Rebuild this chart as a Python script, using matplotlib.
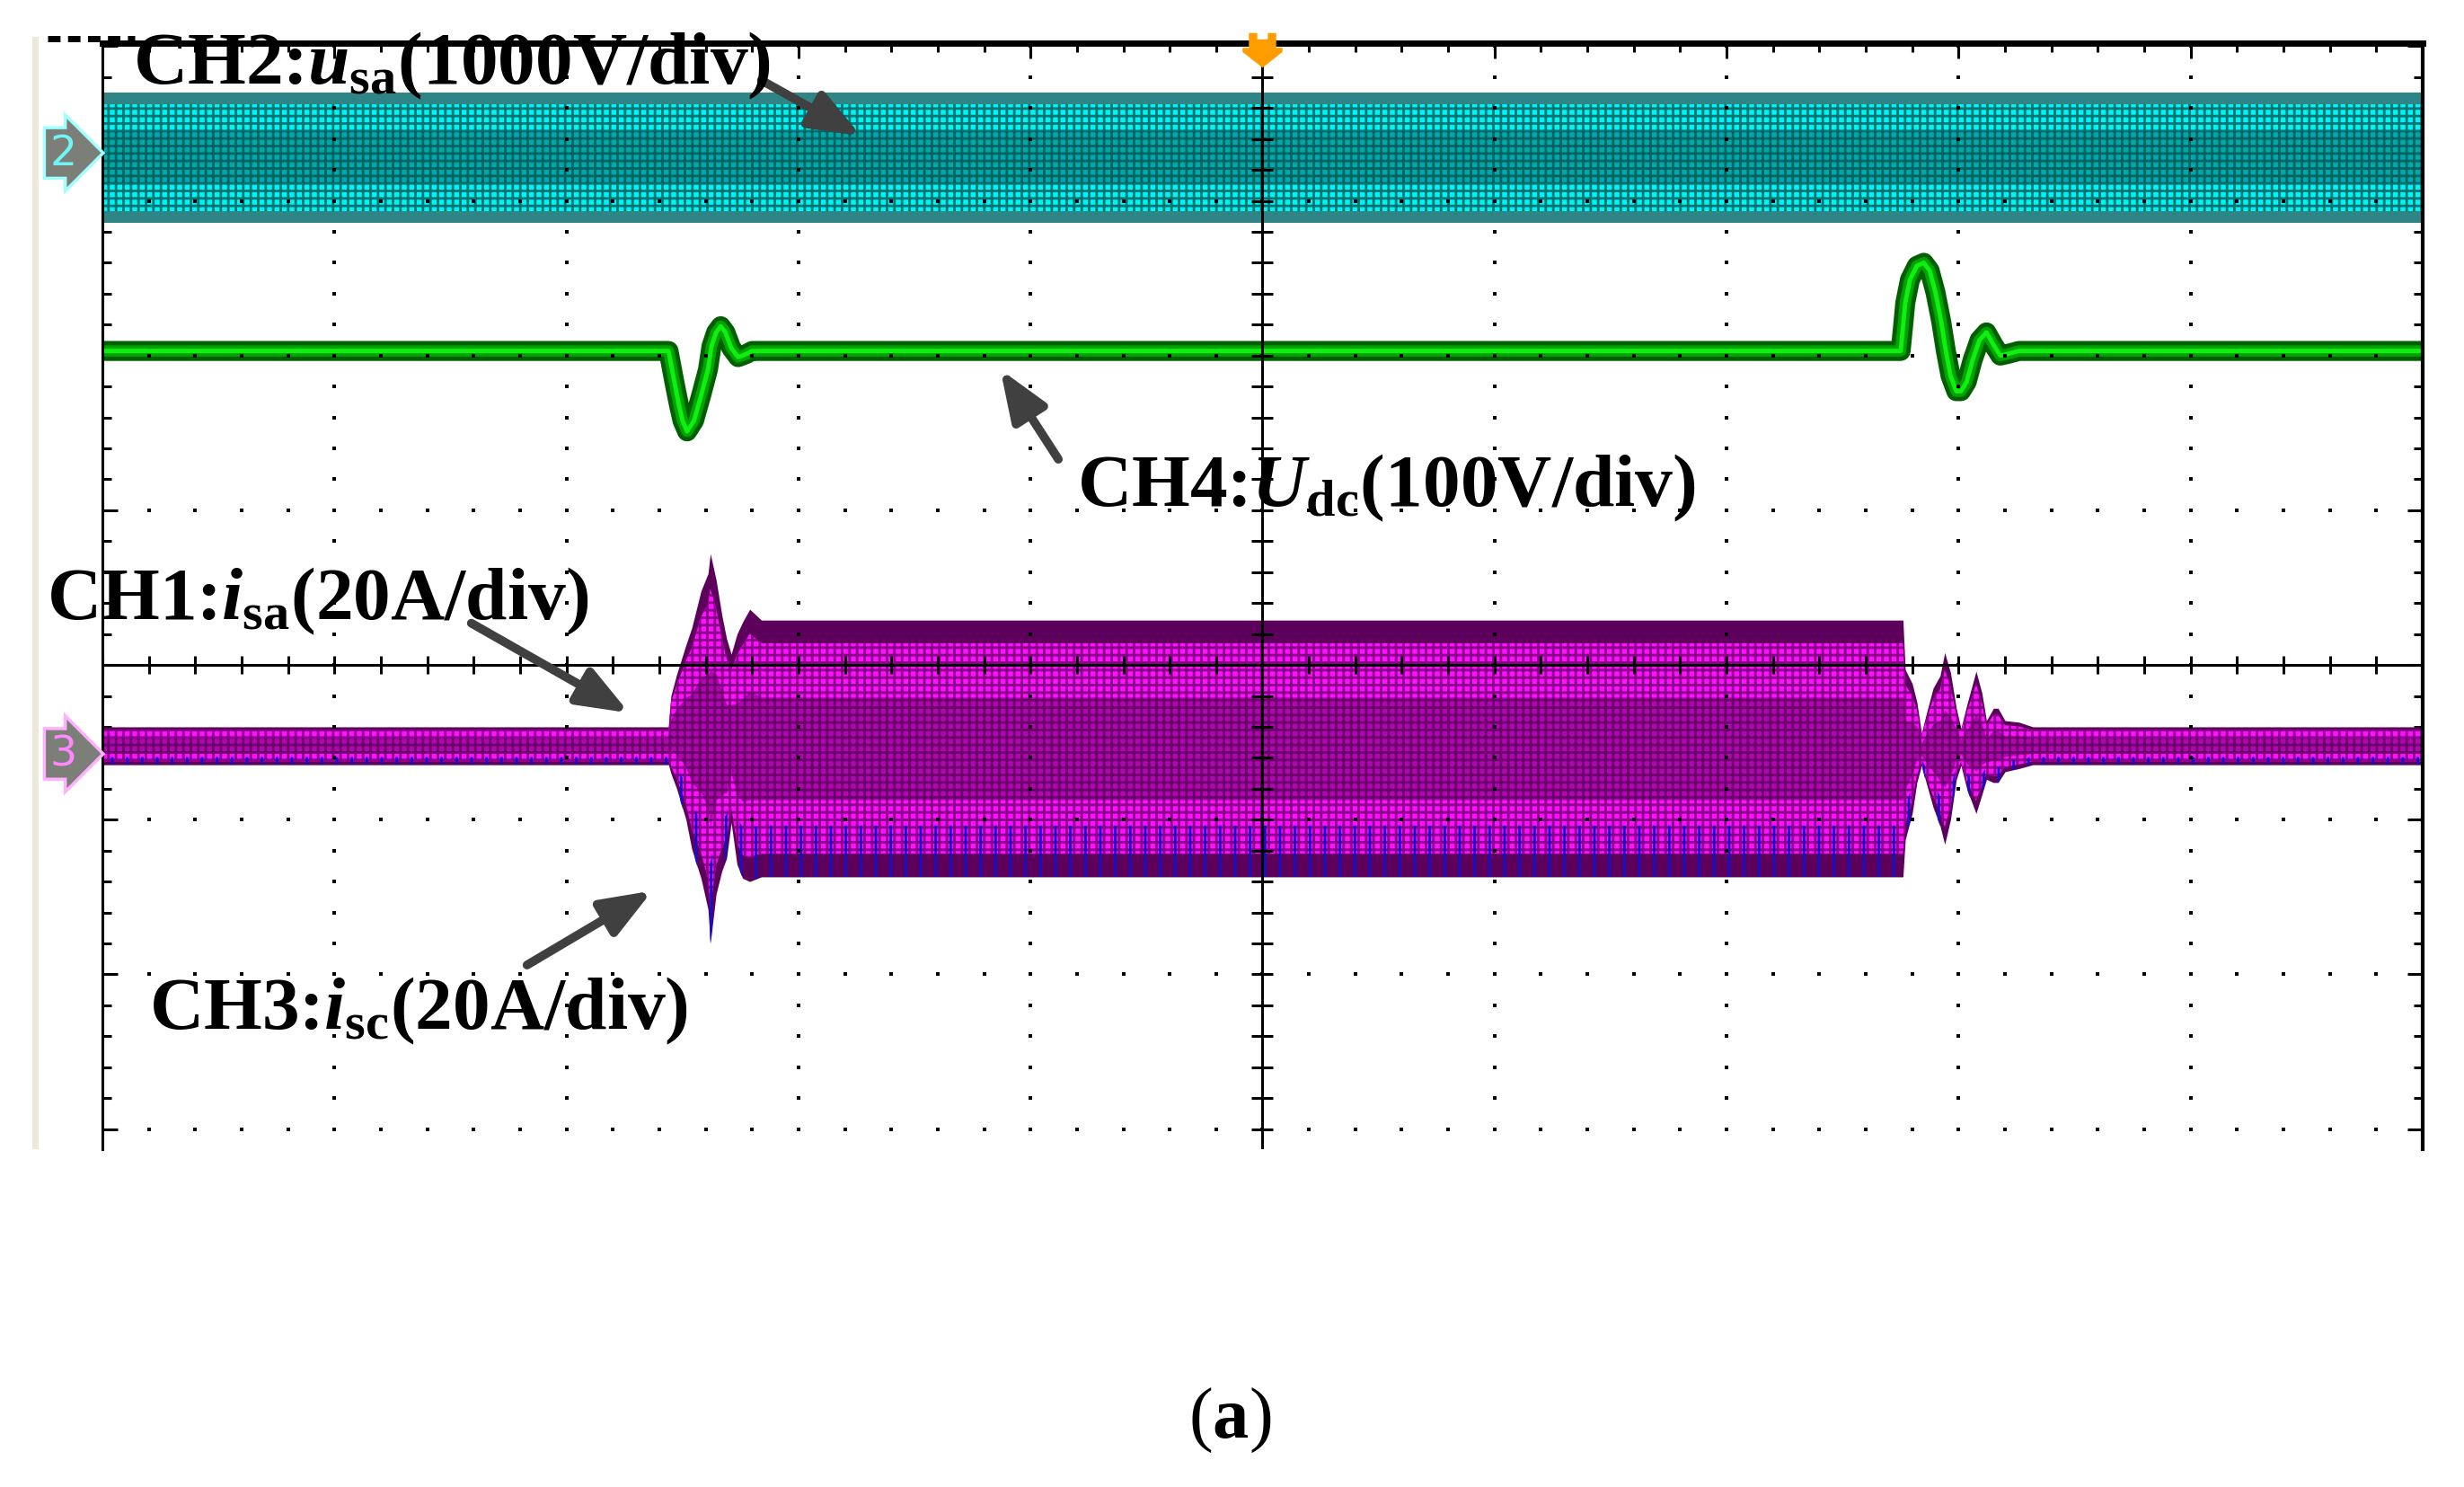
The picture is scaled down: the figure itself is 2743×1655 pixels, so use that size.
import numpy as np
import matplotlib.pyplot as plt
from matplotlib.path import Path
from matplotlib.patches import Rectangle
from matplotlib.lines import Line2D
from matplotlib.ticker import MultipleLocator

plt.rcParams['font.family'] = ['Liberation Serif', 'DejaVu Serif']
plt.rcParams['mathtext.fontset'] = 'custom'
plt.rcParams['mathtext.rm'] = 'Liberation Serif'
plt.rcParams['mathtext.it'] = 'Liberation Serif:italic:bold'
plt.rcParams['mathtext.bf'] = 'Liberation Serif:bold'
plt.rcParams['hatch.linewidth'] = 2.0

# time in divisions (10 div across the screen), level in divisions (0 = centre line)
# CH2 u_sa: dense sine, kept as its envelope
t_usa = [0.0, 10.0]
usa_top = [3.70, 3.70]
usa_bot = [2.86, 2.86]

# CH4 U_dc
t_udc = [0.00, 2.44, 2.465, 2.485, 2.50, 2.52, 2.55, 2.58, 2.61, 2.625, 2.645, 2.665,
         2.685, 2.71, 2.74, 2.775, 2.80, 7.75, 7.76, 7.77, 7.79, 7.82, 7.85, 7.875,
         7.90, 7.925, 7.945, 7.965, 7.99, 8.01, 8.035, 8.06, 8.09, 8.12, 8.15, 8.18,
         8.21, 8.26, 10.00]
udc = [2.03, 2.03, 1.83, 1.68, 1.58, 1.51, 1.58, 1.74, 1.91, 2.06, 2.15, 2.19,
       2.15, 2.05, 1.99, 2.01, 2.03, 2.03, 2.18, 2.34, 2.49, 2.58, 2.60, 2.55,
       2.41, 2.22, 2.03, 1.87, 1.77, 1.77, 1.83, 1.97, 2.10, 2.15, 2.07, 2.00,
       2.01, 2.03, 2.03]

# CH1 / CH3 phase currents, envelope of the traces
t_i = [0.00, 2.44, 2.45, 2.475, 2.515, 2.54, 2.58, 2.61, 2.62, 2.645, 2.67, 2.69,
       2.71, 2.735, 2.76, 2.79, 2.84, 7.76, 7.77, 7.80, 7.82, 7.84, 7.86, 7.89,
       7.92, 7.94, 7.965, 7.99, 8.01, 8.035, 8.055, 8.075, 8.10, 8.12, 8.15, 8.17,
       8.20, 8.26, 8.32, 10.00]
i_top = [-0.40, -0.40, -0.20, -0.06, 0.13, 0.24, 0.48, 0.59, 0.72, 0.55, 0.32, 0.17,
         0.07, 0.20, 0.28, 0.36, 0.29, 0.29, -0.03, -0.12, -0.24, -0.44, -0.32, -0.15,
         -0.07, 0.08, -0.05, -0.28, -0.41, -0.26, -0.15, -0.04, -0.18, -0.36, -0.28, -0.28,
         -0.36, -0.37, -0.40, -0.40]
i_bot = [-0.645, -0.645, -0.70, -0.80, -1.00, -1.19, -1.38, -1.58, -1.80, -1.48, -1.33, -1.25,
         -1.02, -1.29, -1.38, -1.40, -1.37, -1.37, -1.13, -0.96, -0.76, -0.65, -0.76, -0.92,
         -1.04, -1.16, -1.00, -0.74, -0.65, -0.80, -0.88, -0.96, -0.84, -0.74, -0.76, -0.76,
         -0.69, -0.67, -0.645, -0.645]

labels = [
    (r'CH2:$\mathit{u}_{\mathbf{sa}}$(1000V/div)', 0.13, 3.76),
    (r'CH4:$\mathit{U}_{\mathbf{dc}}$(100V/div)', 4.20, 1.03),
    (r'CH1:$\mathit{i}_{\mathbf{sa}}$(20A/div)', -0.24, 0.30),
    (r'CH3:$\mathit{i}_{\mathbf{sc}}$(20A/div)', 0.20, -2.35),
]
# arrows: (tail, tip) in divisions
arrows = [
    ((2.84, 3.78), (3.27, 3.42)),
    ((4.12, 1.33), (3.87, 1.91)),
    ((1.59, 0.27), (2.27, -0.31)),
    ((1.83, -1.94), (2.37, -1.46)),
]


def band(ax, t, top, bot, outer, fill, hatch_col, core, low_col, zo):
    t = np.asarray(t)
    top = np.asarray(top)
    bot = np.asarray(bot)
    mid = (top + bot) / 2
    half = (top - bot) / 2
    ax.fill_between(t, bot, top, color=outer, lw=0, zorder=zo)
    ax.fill_between(t, mid - half * 0.82, mid + half * 0.82, facecolor=fill,
                    edgecolor=hatch_col, hatch='++', lw=0, zorder=zo + 0.1)
    ax.fill_between(t, mid - half * 0.4, mid + half * 0.4, color=core,
                    alpha=0.45, lw=0, zorder=zo + 0.2)
    if low_col is not None:
        ax.fill_between(t, bot, mid - half * 0.6, facecolor='none',
                        edgecolor=low_col, hatch='|', lw=0, zorder=zo + 0.3)


fig = plt.figure(figsize=(27.43, 16.56), dpi=100)
ax = fig.add_axes([0.04156, 0.2271, 0.94167, 0.7433])
ax.set_xlim(0, 10)
ax.set_ylim(-3.13, 4.02)

band(ax, t_usa, usa_top, usa_bot, '#2f8585', '#00f4f4', '#007474', '#004f4f', None, 3)

ax.plot(t_udc, udc, color='#006000', lw=16, solid_joinstyle='round',
        solid_capstyle='butt', zorder=4)
ax.plot(t_udc, udc, color='#00a400', lw=9, solid_joinstyle='round',
        solid_capstyle='butt', zorder=4.1)
ax.plot(t_udc, udc, color='#10f010', lw=3.5, solid_joinstyle='round',
        solid_capstyle='butt', zorder=4.2)

band(ax, t_i, i_top, i_bot, '#5c005c', '#ff10ff', '#8a008a', '#4a004a', '#1010d0', 3.5)

# screen graticule: dotted lines, solid centre cross
xmaj = [x for x in range(1, 10) if x != 5]
ymaj = [y for y in range(-3, 4) if y != 0]
yminor = np.arange(-3.0, 4.01, 0.2)
xminor = np.arange(0.0, 10.01, 0.2)
gx, gy = np.meshgrid(xmaj, yminor)
ax.plot(gx.ravel(), gy.ravel(), ls='none', marker='s', ms=2.4, color='black', mew=0, zorder=6)
gx, gy = np.meshgrid(xminor, ymaj)
ax.plot(gx.ravel(), gy.ravel(), ls='none', marker='s', ms=2.4, color='black', mew=0, zorder=6)

ax.axvline(5, color='black', lw=2.2, zorder=6)
ax.axhline(0, color='black', lw=2.2, zorder=6)
ax.plot(xminor, np.zeros_like(xminor), ls='none', marker='|', ms=15, mew=2.2,
        color='black', zorder=6)
ax.plot(np.full_like(yminor, 5.0), yminor, ls='none', marker='_', ms=17, mew=2.2,
        color='black', zorder=6)

ax.xaxis.set_major_locator(MultipleLocator(1))
ax.xaxis.set_minor_locator(MultipleLocator(0.2))
ax.yaxis.set_major_locator(MultipleLocator(1))
ax.yaxis.set_minor_locator(MultipleLocator(0.2))
ax.tick_params(which='both', direction='in', top=True, bottom=False, left=True, right=True,
               labelbottom=False, labelleft=False, color='black', width=2.2)
ax.tick_params(which='major', length=12)
ax.tick_params(which='minor', length=7)
ax.spines['bottom'].set_visible(False)
ax.spines['top'].set_linewidth(5)
ax.spines['left'].set_linewidth(2.2)
ax.spines['right'].set_linewidth(3)
for s in ax.spines.values():
    s.set_zorder(6)

# trigger marker on top of the screen
trig = Path([(-13, 16), (-5, 16), (-5, 10), (5, 10), (5, 16), (13, 16), (13, 2), (19, 2),
             (19, -2), (0, -17), (-19, -2), (-19, 2), (-13, 2), (-13, 16)])
ax.plot([5], [3.98], marker=trig, ms=32, color='#ff9c00', mew=0, clip_on=False, zorder=7)

# channel markers on the left edge
ax.text(-0.17, 3.31, '2', color='#70f4f4', fontsize=34, family='DejaVu Sans',
        ha='center', va='center', clip_on=False, zorder=7,
        bbox=dict(boxstyle='rarrow,pad=0.12', fc='#7c7f78', ec='#a0ffff', lw=2.5))
ax.text(-0.17, -0.575, '3', color='#ff88ff', fontsize=34, family='DejaVu Sans',
        ha='center', va='center', clip_on=False, zorder=7,
        bbox=dict(boxstyle='rarrow,pad=0.12', fc='#7c7f78', ec='#ffb0ff', lw=2.5))

for txt, x, y in labels:
    ax.text(x, y, txt, fontsize=60, fontweight='bold', color='black',
            ha='left', va='baseline', clip_on=False, zorder=9)

for tail, tip in arrows:
    ax.annotate('', xy=tip, xytext=tail, zorder=8,
                arrowprops=dict(arrowstyle='-|>,head_length=0.85,head_width=0.33',
                                mutation_scale=40, lw=7, color='#404040',
                                shrinkA=0, shrinkB=0))

# beige window edge and the clipped readout at the top-left corner
fig.add_artist(Rectangle((36 / 2743, 1 - 1280 / 1656), 7 / 2743, (1280 - 42) / 1656,
                         transform=fig.transFigure, color='#ece9d8', lw=0))
fig.add_artist(Line2D([53 / 2743, 150 / 2743], [1 - 44 / 1656] * 2, transform=fig.transFigure,
                      color='black', lw=5, ls=(0, (2, 1.2))))

fig.text(1369 / 2743, 1 - 1600 / 1656, r'($\mathbf{a}$)', fontsize=58, ha='center',
         va='baseline', color='black')

fig.savefig('out.png', dpi=100)
